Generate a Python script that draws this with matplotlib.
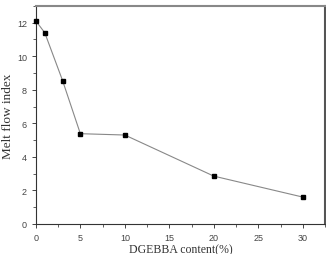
import matplotlib
matplotlib.use("Agg")
import matplotlib.pyplot as plt
from matplotlib.ticker import MultipleLocator

content = [0, 1, 3, 5, 10, 20, 30]
melt_index = [12.1, 11.4, 8.55, 5.38, 5.3, 2.85, 1.6]

fig = plt.figure(figsize=(3.26, 2.55), dpi=100)
ax = fig.add_axes([0.110, 0.118, 0.887, 0.855])

ax.plot(content, melt_index, color="#888888", linewidth=0.8,
        marker="s", markersize=3.5, markerfacecolor="black", markeredgecolor="black",
        clip_on=False, zorder=3)

ax.set_xlim(0, 32.5)
ax.set_ylim(0, 13)
ax.xaxis.set_major_locator(MultipleLocator(5))
ax.xaxis.set_minor_locator(MultipleLocator(2.5))
ax.yaxis.set_major_locator(MultipleLocator(2))
ax.yaxis.set_minor_locator(MultipleLocator(1))

ax.tick_params(which="both", direction="out", labelsize=6.5, colors="#444444")
ax.tick_params(which="major", length=3, width=0.7)
ax.tick_params(which="minor", length=2, width=0.6)
for lbl in ax.get_xticklabels() + ax.get_yticklabels():
    lbl.set_fontfamily("Liberation Sans")

for s in ["left", "bottom"]:
    ax.spines[s].set_color("#333333")
    ax.spines[s].set_linewidth(0.8)
ax.spines["top"].set_color("#888888")
ax.spines["top"].set_linewidth(1.5)
ax.spines["right"].set_color("#555555")
ax.spines["right"].set_linewidth(1.5)

ax.set_xlabel("DGEBBA content(%)", family="Liberation Serif", fontsize=8.5,
              labelpad=1, color="#333333")
ax.set_ylabel("Melt flow index", family="Liberation Serif", fontsize=9.5,
              labelpad=2, color="#333333")

fig.savefig("out.png", dpi=100)
